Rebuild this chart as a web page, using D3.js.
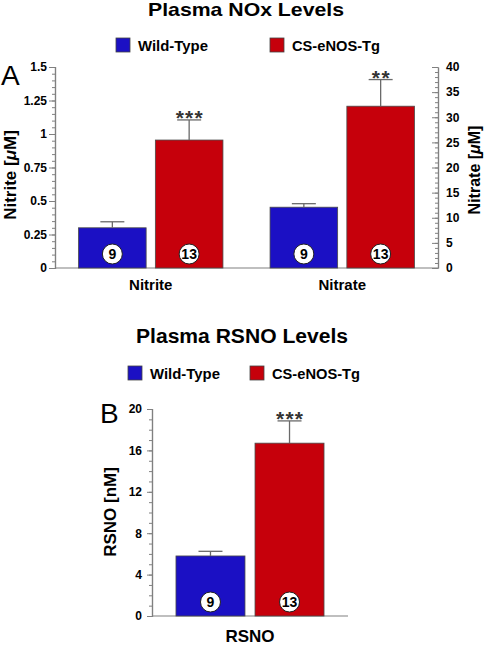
<!DOCTYPE html>
<html><head><meta charset="utf-8">
<script src="https://cdn.jsdelivr.net/npm/d3@7"></script>
<style>body{margin:0;background:#fff}svg{display:block}text{font-family:"Liberation Sans",Arial,Helvetica,sans-serif}</style>
</head><body>
<script>
// ---- data ----
const groups = ["Wild-Type", "CS-eNOS-Tg"];
const groupColors = ["#1b10c4", "#c6000b"];
const nCounts = [9, 13];
const categoriesA = ["Nitrite", "Nitrate"];
const nitriteMean = [0.30, 0.955];
const nitriteErr = [0.045, 0.15];
const nitrateMean = [12.1, 32.2];
const nitrateErr = [0.7, 5.3];
const starsA = ["", "***", "", "**"]; // per bar: Nitrite WT, Nitrite Tg, Nitrate WT, Nitrate Tg
const categoriesB = ["RSNO"];
const rsnoMean = [5.8, 16.7];
const rsnoErr = [0.45, 2.15];
const starsB = ["", "***"];
const leftTicks = [0, 0.25, 0.5, 0.75, 1, 1.25, 1.5];
const rightTicks = [0, 5, 10, 15, 20, 25, 30, 35, 40];
const rsnoTicks = [0, 4, 8, 12, 16, 20];

const W = 485, H = 645;
const svg = d3.select("body").append("svg").attr("width", W).attr("height", H);
const axisColor = "#808080";
const errColor = "#6a6a6a";

function styleAxis(g) {
  g.selectAll("path.domain").attr("stroke", axisColor).attr("stroke-width", 1.2);
  g.selectAll(".tick line").attr("stroke", axisColor);
  g.selectAll(".tick text").attr("font-size", 12).attr("font-weight", "bold").attr("fill", "#000")
    .attr("font-family", "'Liberation Sans',Arial,sans-serif");
}
function minorVals(max, step) { const v = []; for (let i = 0; i <= Math.round(max / step); i++) v.push(+(i * step).toFixed(4)); return v; }

function legend(y, x0, x1) {
  [x0, x1].forEach((x, i) => {
    svg.append("rect").attr("x", x).attr("y", y - 13).attr("width", 14).attr("height", 14)
      .attr("fill", groupColors[i]).attr("stroke", "#444").attr("stroke-width", 0.8);
    svg.append("text").attr("x", x + 22).attr("y", y).attr("font-size", 15).attr("font-weight", "bold")
      .attr("textLength", i === 0 ? 70 : 88).attr("lengthAdjust", "spacingAndGlyphs").text(groups[i]);
  });
}

function drawBar(x, w, yScale, y0, mean, err, color, n, stars) {
  const top = yScale(mean), etop = yScale(mean + err), cx = x + w / 2;
  svg.append("rect").attr("x", x).attr("y", top).attr("width", w).attr("height", y0 - top)
    .attr("fill", color).attr("stroke", "#4a4a4a").attr("stroke-width", 0.8);
  svg.append("line").attr("x1", cx).attr("x2", cx).attr("y1", top).attr("y2", etop).attr("stroke", errColor).attr("stroke-width", 1.3);
  svg.append("line").attr("x1", cx - 12).attr("x2", cx + 12).attr("y1", etop).attr("y2", etop).attr("stroke", errColor).attr("stroke-width", 1.3);
  svg.append("circle").attr("cx", cx).attr("cy", y0 - 14).attr("r", 10).attr("fill", "#fff").attr("stroke", "#222").attr("stroke-width", 1);
  svg.append("text").attr("x", cx).attr("y", y0 - 9).attr("text-anchor", "middle").attr("font-size", 14)
    .attr("font-weight", "bold").text(n);
  if (stars) {
    svg.append("text").attr("x", cx).attr("y", etop + 5).attr("text-anchor", "middle").attr("font-size", 21)
      .attr("font-weight", "bold").attr("fill", "#333").attr("textLength", stars.length * 9).attr("lengthAdjust", "spacing").text(stars);
  }
}

// ================= Panel A =================
svg.append("text").attr("x", 246).attr("y", 16).attr("text-anchor", "middle").attr("font-size", 19)
  .attr("font-weight", "bold").attr("textLength", 196).attr("lengthAdjust", "spacingAndGlyphs").text("Plasma NOx Levels");
legend(51, 116, 270);
svg.append("text").attr("x", 1).attr("y", 85).attr("font-size", 28).text("A");

const xA0 = 55, xA1 = 438, yA0 = 268, yA1 = 67;
const yLeft = d3.scaleLinear().domain([0, 1.5]).range([yA0, yA1]);
const yRight = d3.scaleLinear().domain([0, 40]).range([yA0, yA1]);
const xA = d3.scaleBand().domain(categoriesA).range([xA0, xA1]).paddingInner(0.246).paddingOuter(0.123);
const xAsub = d3.scaleBand().domain(groups).range([0, xA.bandwidth()]).paddingInner(0.12);

// minor ticks
svg.append("g").attr("transform", `translate(${xA0},0)`)
  .call(d3.axisLeft(yLeft).tickValues(minorVals(1.5, 0.05)).tickSize(3).tickFormat("")).call(styleAxis);
svg.append("g").attr("transform", `translate(${xA1},0)`)
  .call(d3.axisRight(yRight).tickValues(minorVals(40, 1)).tickSizeInner(-3).tickSizeOuter(0).tickFormat("")).call(styleAxis);
// major
svg.append("g").attr("transform", `translate(${xA0},0)`)
  .call(d3.axisLeft(yLeft).tickValues(leftTicks).tickSize(6).tickPadding(2).tickFormat(d => String(d))).call(styleAxis);
svg.append("g").attr("transform", `translate(${xA1},0)`)
  .call(d3.axisRight(yRight).tickValues(rightTicks).tickSizeInner(-6).tickSizeOuter(0).tickPadding(8)).call(styleAxis);
svg.append("line").attr("x1", xA0).attr("x2", xA1).attr("y1", yA0).attr("y2", yA0).attr("stroke", axisColor).attr("stroke-width", 1.2);

const aData = [
  { cat: "Nitrite", scale: yLeft, mean: nitriteMean, err: nitriteErr },
  { cat: "Nitrate", scale: yRight, mean: nitrateMean, err: nitrateErr }
];
aData.forEach((c, ci) => {
  groups.forEach((g, gi) => {
    drawBar(xA(c.cat) + xAsub(g), xAsub.bandwidth(), c.scale, yA0, c.mean[gi], c.err[gi], groupColors[gi], nCounts[gi], starsA[ci * 2 + gi]);
  });
  svg.append("text").attr("x", xA(c.cat) + xA.bandwidth() / 2).attr("y", 290).attr("text-anchor", "middle")
    .attr("font-size", 15).attr("font-weight", "bold").text(c.cat);
});
svg.append("text").attr("transform", "translate(16,175) rotate(-90)").attr("text-anchor", "middle")
  .attr("font-size", 17).attr("font-weight", "bold")
  .call(t => { t.append("tspan").text("Nitrite ["); t.append("tspan").attr("font-style", "italic").text("μ"); t.append("tspan").text("M]"); });
svg.append("text").attr("transform", "translate(480,170) rotate(-90)").attr("text-anchor", "middle")
  .attr("font-size", 16).attr("font-weight", "bold")
  .call(t => { t.append("tspan").text("Nitrate ["); t.append("tspan").attr("font-style", "italic").text("μ"); t.append("tspan").text("M]"); });

// ================= Panel B =================
svg.append("text").attr("x", 242).attr("y", 343).attr("text-anchor", "middle").attr("font-size", 20)
  .attr("font-weight", "bold").attr("textLength", 212).attr("lengthAdjust", "spacingAndGlyphs").text("Plasma RSNO Levels");
legend(379, 128, 250);
svg.append("text").attr("x", 100).attr("y", 423).attr("font-size", 28).text("B");

const xB0 = 152, xB1 = 348, yB0 = 616, yB1 = 409;
const yB = d3.scaleLinear().domain([0, 20]).range([yB0, yB1]);
const xB = d3.scaleBand().domain(categoriesB).range([xB0, xB1]).paddingInner(0).paddingOuter(0.162);
const xBsub = d3.scaleBand().domain(groups).range([0, xB.bandwidth()]).paddingInner(0.127);

svg.append("g").attr("transform", `translate(${xB0},0)`)
  .call(d3.axisLeft(yB).tickValues(minorVals(20, 1)).tickSize(3).tickFormat("")).call(styleAxis);
svg.append("g").attr("transform", `translate(${xB0},0)`)
  .call(d3.axisLeft(yB).tickValues(rsnoTicks).tickSize(5).tickPadding(5)).call(styleAxis);
svg.append("line").attr("x1", xB0).attr("x2", xB1).attr("y1", yB0).attr("y2", yB0).attr("stroke", axisColor).attr("stroke-width", 1.2);

groups.forEach((g, gi) => {
  drawBar(xB("RSNO") + xBsub(g), xBsub.bandwidth(), yB, yB0, rsnoMean[gi], rsnoErr[gi], groupColors[gi], nCounts[gi], starsB[gi]);
});
svg.append("text").attr("x", xB("RSNO") + xB.bandwidth() / 2).attr("y", 642).attr("text-anchor", "middle")
  .attr("font-size", 17).attr("font-weight", "bold").text("RSNO");
svg.append("text").attr("transform", "translate(116,512) rotate(-90)").attr("text-anchor", "middle")
  .attr("font-size", 17).attr("font-weight", "bold").text("RSNO [nM]");
</script>
</body></html>
